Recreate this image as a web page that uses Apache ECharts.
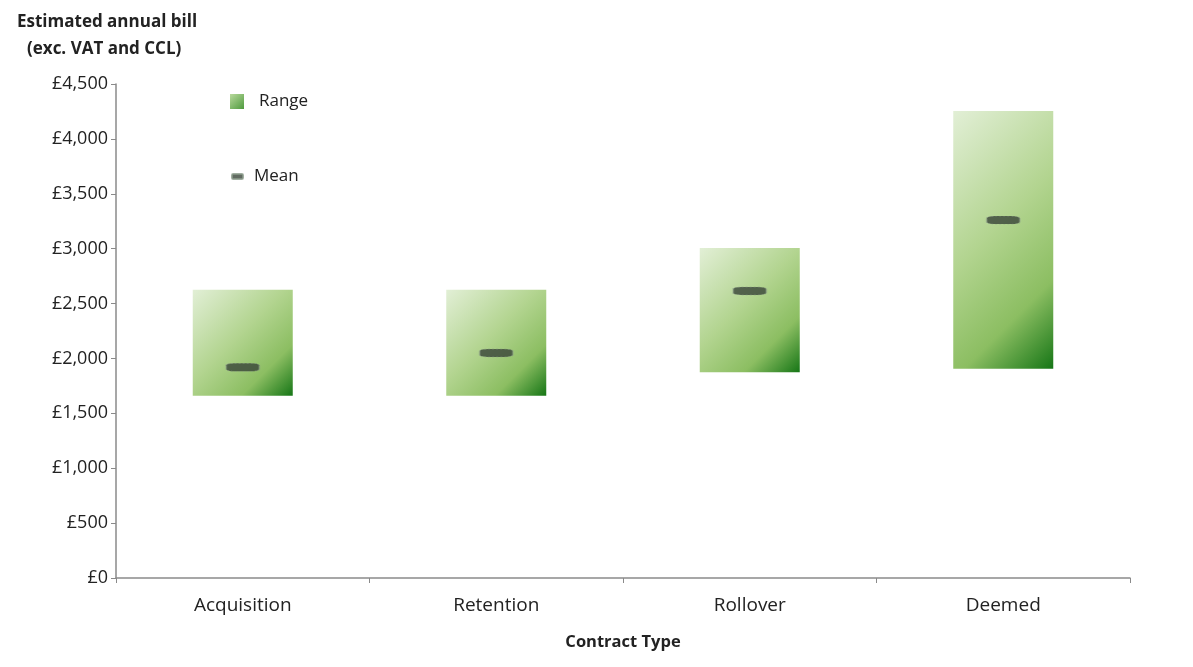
<!DOCTYPE html>
<html>
<head>
<meta charset="utf-8">
<script src="https://cdn.jsdelivr.net/npm/echarts@6/dist/echarts.min.js"></script>
<style>
html,body{margin:0;padding:0;background:#fff;}
#chart{width:1193px;height:667px;}
</style>
</head>
<body>
<div id="chart"></div>
<script>
const categories = ['Acquisition', 'Retention', 'Rollover', 'Deemed'];
const rangeLow = [1660, 1660, 1875, 1905];
const rangeHigh = [2625, 2625, 3005, 4255];
const meanValues = [1920, 2050, 2615, 3260];
const yMin = 0, yMax = 4500, yStep = 500;

const FONT = '"Open Sans", sans-serif';
const BAR_W = 100;
const stops = [
  {offset: 0, color: '#e2efd6'},
  {offset: 0.45, color: '#b2d48f'},
  {offset: 0.75, color: '#8cbe62'},
  {offset: 1, color: '#167616'}
];
const legendGradient = new echarts.graphic.LinearGradient(0, 0, 1, 1, [
  {offset: 0, color: '#b8d99c'},
  {offset: 1, color: '#4f9b3e'}
]);

const chart = echarts.init(document.getElementById('chart'));

chart.setOption({
  animation: false,
  backgroundColor: '#fff',
  title: [{
    text: 'Estimated annual bill',
    left: 12, top: 9,
    textStyle: {fontFamily: FONT, fontSize: 17, fontWeight: 'bold', color: '#222'}
  }, {
    text: '(exc. VAT and CCL)',
    left: 22, top: 36,
    textStyle: {fontFamily: FONT, fontSize: 17, fontWeight: 'bold', color: '#222'}
  }],
  legend: [{
    data: [{name: 'Range', icon: 'rect', itemStyle: {color: legendGradient}}],
    left: 225, top: 88,
    itemWidth: 14, itemHeight: 15,
    textStyle: {fontFamily: FONT, fontSize: 17, color: '#222', padding: [0, 0, 0, 10]},
    selectedMode: false
  }, {
    data: [{name: 'Mean', icon: 'roundRect', itemStyle: {color: '#3a453a'}}],
    left: 226, top: 163,
    itemWidth: 11, itemHeight: 5,
    textStyle: {fontFamily: FONT, fontSize: 17, color: '#222', padding: [0, 0, 0, 6]},
    selectedMode: false
  }],
  grid: {left: 116, right: 63, top: 84, bottom: 89, containLabel: false},
  xAxis: {
    type: 'category',
    data: categories,
    boundaryGap: true,
    name: 'Contract Type',
    nameLocation: 'middle',
    nameGap: 56,
    nameTextStyle: {fontFamily: FONT, fontSize: 16.5, fontWeight: 'bold', color: '#222'},
    axisLine: {lineStyle: {color: '#8a8a8a', width: 1.5}},
    axisTick: {show: true, length: 5, lineStyle: {color: '#8a8a8a'}},
    axisLabel: {fontFamily: FONT, fontSize: 19, color: '#222', margin: 18}
  },
  yAxis: {
    type: 'value',
    min: yMin, max: yMax, interval: yStep,
    splitLine: {show: false},
    axisLine: {show: true, lineStyle: {color: '#8a8a8a', width: 1.5}},
    axisTick: {show: true, length: 5, lineStyle: {color: '#8a8a8a'}},
    axisLabel: {
      fontFamily: FONT, fontSize: 18, color: '#222', margin: 8,
      formatter: v => '£' + v.toLocaleString('en-GB')
    }
  },
  series: [{
    name: 'Range',
    type: 'custom',
    itemStyle: {color: '#8abd60'},
    encode: {x: 0, y: [1, 2]},
    data: categories.map((c, i) => [i, rangeLow[i], rangeHigh[i]]),
    renderItem: function (params, api) {
      const lo = api.coord([api.value(0), api.value(1)]);
      const hi = api.coord([api.value(0), api.value(2)]);
      const x = lo[0] - BAR_W / 2;
      const y = hi[1];
      const h = lo[1] - hi[1];
      const L = (BAR_W + h) / 2;
      return {
        type: 'rect',
        shape: {x: x, y: y, width: BAR_W, height: h},
        style: {fill: new echarts.graphic.LinearGradient(x, y, x + L, y + L, stops, true)}
      };
    }
  }, {
    name: 'Mean',
    type: 'scatter',
    data: meanValues,
    symbol: 'roundRect',
    symbolSize: [33, 8],
    z: 5,
    itemStyle: {color: '#384338', borderColor: '#8a9a8a', borderWidth: 1, borderType: 'dotted'}
  }]
});
</script>
</body>
</html>
